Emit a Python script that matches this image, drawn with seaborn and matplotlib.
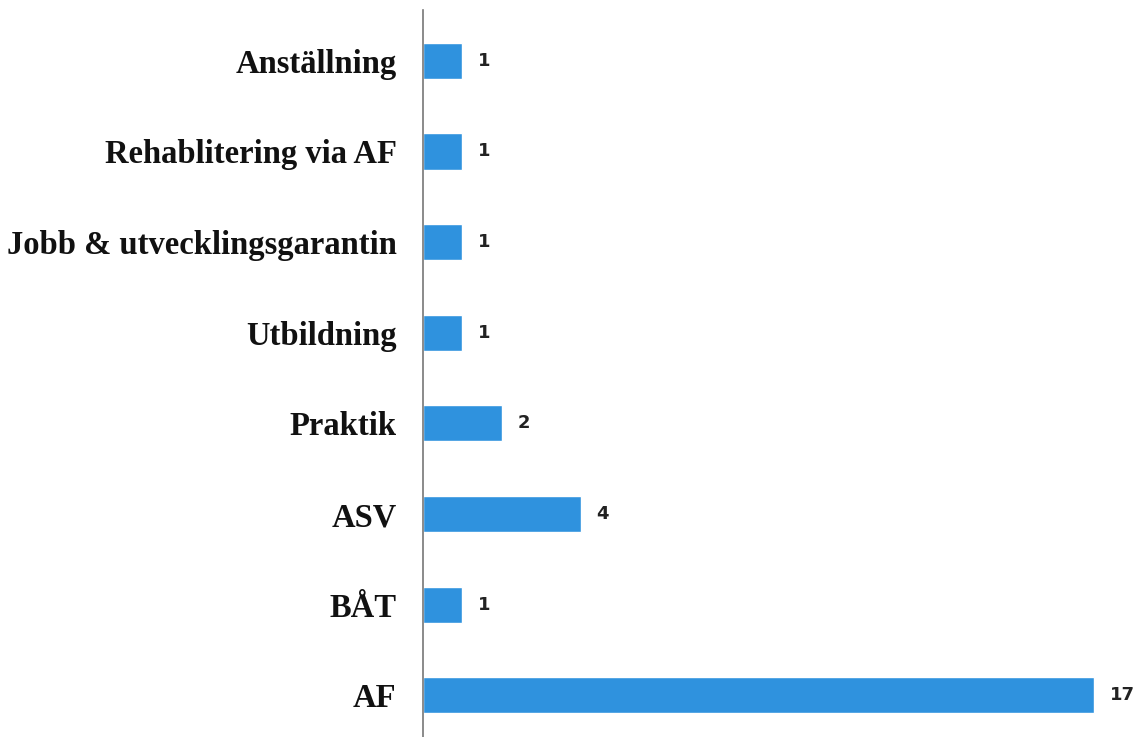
import matplotlib
matplotlib.use("Agg")
import matplotlib.pyplot as plt
import seaborn as sns
import pandas as pd

# --- DATA ---
categories = ["Anställning", "Rehablitering via AF", "Jobb & utvecklingsgarantin",
              "Utbildning", "Praktik", "ASV", "BÅT", "AF"]
counts = [1, 1, 1, 1, 2, 4, 1, 17]

df = pd.DataFrame({"kategori": categories, "antal": counts})

sns.set_theme(style="white")
plt.rcParams["font.family"] = ["DejaVu Sans"]

fig = plt.figure(figsize=(11.41, 7.37), dpi=100)
ax = fig.add_axes([0.3707, 0.0, 0.6293, 0.9864])

sns.barplot(data=df, y="kategori", x="antal", orient="h", color="#2f92de",
            saturation=1, width=0.4, ax=ax)

ax.set_xlim(0, 18.2)
ax.set_ylim(7.46, -0.56)

# value labels to the right of each bar
for i, v in enumerate(counts):
    ax.text(v + 0.4, i, str(v), va="center", ha="left",
            fontsize=13, fontweight="bold", color="#222222")

ax.set_xlabel("")
ax.set_ylabel("")
ax.set_xticks([])
ax.tick_params(axis="y", length=0, pad=19)
for lab in ax.get_yticklabels():
    lab.set_fontfamily("Liberation Serif")
    lab.set_fontweight("bold")
    lab.set_fontsize(23.5)
    lab.set_color("#111111")

for s in ["top", "right", "bottom"]:
    ax.spines[s].set_visible(False)
ax.spines["left"].set_color("#777777")
ax.spines["left"].set_linewidth(1.2)

fig.savefig("out.png", dpi=100)
